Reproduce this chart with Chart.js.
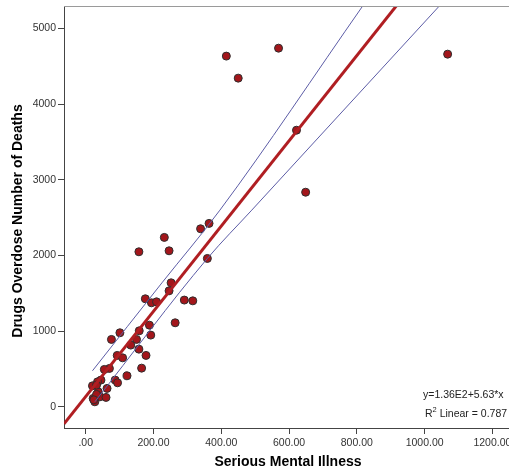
<!DOCTYPE html>
<html>
<head>
<meta charset="utf-8">
<script src="https://cdn.jsdelivr.net/npm/chart.js@4.4.1/dist/chart.umd.min.js"></script>
<style>
    html, body { margin: 0; padding: 0; background: #fff; overflow: hidden; }
    #wrap { width: 509px; height: 473px; }
</style>
</head>
<body>
<div id="wrap"><canvas id="myChart" width="509" height="473"></canvas></div>
<script>
// values
const illness = [364, 339, 232, 157, 246, 359, 252, 246, 176, 194, 209, 291, 316, 264, 188, 192,
    158, 101, 76, 150, 133, 157, 178, 93, 109, 165, 70, 55, 122, 87, 94, 45, 35, 20, 63, 37,
    22, 42, 60, 27, 32, 24, 32, 415, 569, 450, 1068, 622, 649];
const deaths = [2423, 2352, 2238, 2048, 2061, 1960, 1638, 1532, 1427, 1374, 1387, 1410, 1400, 1110, 1079, 947,
    1004, 978, 890, 890, 815, 762, 679, 679, 647, 511, 507, 494, 410, 353, 317, 353, 330, 277, 243, 198,
    111, 132, 124, 66, 164, 92, 287, 4633, 4738, 4342, 4659, 3654, 2835];

// linear fit as printed on the chart
const fitIntercept = 136;
const fitSlope = 5.63;
const fitLabel = "y=1.36E2+5.63*x";
const r2Value = "0.787";

// 95% confidence band lines
const upperCiX = [20, 225, 396, 817];
const upperCiY = [476, 1638, 2598, 5293];
const lowerCiX = [27, 359, 490, 1043];
const lowerCiY = [66, 1960, 2598, 5293];

const xTicks = [0, 200, 400, 600, 800, 1000, 1200];
const yTicks = [0, 1000, 2000, 3000, 4000, 5000];
const xTitle = "Serious Mental Illness";
const yTitle = "Drugs Overdose Number of Deaths";

const X_MIN = -64, X_MAX = 1249, Y_MIN = -280, Y_MAX = 5295;
const FONT = "'Liberation Sans', Arial, sans-serif";

const pts = illness.map((v, i) => ({ x: v, y: deaths[i] }));
const fitPts = [X_MIN, X_MAX].map(x => ({ x: x, y: fitIntercept + fitSlope * x }));
const upperPts = upperCiX.map((v, i) => ({ x: v, y: upperCiY[i] }));
const lowerPts = lowerCiX.map((v, i) => ({ x: v, y: lowerCiY[i] }));

const extras = {
    id: "extras",
    afterDraw(chart) {
        const ctx = chart.ctx;
        const a = chart.chartArea;
        ctx.save();
        // top frame line
        ctx.strokeStyle = "#9a9a9a";
        ctx.lineWidth = 1;
        ctx.beginPath();
        ctx.moveTo(a.left, a.top + 0.5);
        ctx.lineTo(a.right, a.top + 0.5);
        ctx.stroke();

        // axis titles
        ctx.fillStyle = "#000";
        ctx.font = "bold 14px " + FONT;
        ctx.textAlign = "center";
        ctx.textBaseline = "middle";
        ctx.fillText(xTitle, 288, 462);
        ctx.translate(18, 221);
        ctx.rotate(-Math.PI / 2);
        ctx.fillText(yTitle, 0, 0);
        ctx.setTransform(1, 0, 0, 1, 0, 0);

        // fit annotation
        ctx.fillStyle = "#222";
        ctx.font = "10.5px " + FONT;
        ctx.textAlign = "left";
        ctx.textBaseline = "middle";
        ctx.fillText(fitLabel, 423, 395);
        let x = 425;
        ctx.fillText("R", x, 414);
        x += ctx.measureText("R").width;
        ctx.font = "7.5px " + FONT;
        ctx.fillText("2", x, 410);
        x += ctx.measureText("2").width;
        ctx.font = "10.5px " + FONT;
        ctx.fillText(" Linear = " + r2Value, x, 414);
        ctx.restore();
    }
};

const ctx = document.getElementById("myChart").getContext("2d");
const myChart = new Chart(ctx, {
    type: "scatter",
    data: {
        datasets: [
            {
                label: "Observed",
                data: pts,
                backgroundColor: "#a3161b",
                borderColor: "#2e2e2e",
                borderWidth: 1,
                pointRadius: 4,
                order: 3
            },
            {
                label: "Fit",
                type: "line",
                data: fitPts,
                borderColor: "#b01e22",
                borderWidth: 3,
                pointRadius: 0,
                fill: false,
                order: 1
            },
            {
                label: "Upper CI",
                type: "line",
                data: upperPts,
                borderColor: "#5c5ca6",
                borderWidth: 1,
                pointRadius: 0,
                cubicInterpolationMode: "monotone",
                fill: false,
                order: 2
            },
            {
                label: "Lower CI",
                type: "line",
                data: lowerPts,
                borderColor: "#5c5ca6",
                borderWidth: 1,
                pointRadius: 0,
                cubicInterpolationMode: "monotone",
                fill: false,
                order: 2
            }
        ]
    },
    options: {
        responsive: false,
        animation: false,
        devicePixelRatio: 1,
        layout: { autoPadding: false, padding: { top: 6, left: 0, right: 0, bottom: 0 } },
        plugins: {
            legend: { display: false },
            tooltip: { enabled: false }
        },
        scales: {
            x: {
                type: "linear",
                min: X_MIN,
                max: X_MAX,
                afterBuildTicks: scale => { scale.ticks = xTicks.map(v => ({ value: v })); },
                afterFit: scale => {
                    scale.height = 45;
                    scale.paddingLeft = 0;
                    scale.paddingRight = 0;
                },
                grid: { drawOnChartArea: false, drawTicks: true, tickLength: 6, color: "#444" },
                border: { display: true, color: "#444", width: 1 },
                ticks: {
                    padding: 3,
                    color: "#333",
                    font: { family: FONT, size: 10.5 },
                    maxRotation: 0,
                    autoSkip: false,
                    callback: v => v === 0 ? ".00" : v.toFixed(2)
                }
            },
            y: {
                type: "linear",
                min: Y_MIN,
                max: Y_MAX,
                afterBuildTicks: scale => { scale.ticks = yTicks.map(v => ({ value: v })); },
                afterFit: scale => {
                    scale.width = 64;
                    scale.paddingTop = 0;
                    scale.paddingBottom = 0;
                },
                grid: { drawOnChartArea: false, drawTicks: true, tickLength: 6, color: "#444" },
                border: { display: true, color: "#444", width: 1 },
                ticks: {
                    padding: 2,
                    color: "#333",
                    font: { family: FONT, size: 10.5 },
                    autoSkip: false,
                    callback: v => String(v)
                }
            }
        }
    },
    plugins: [extras]
});
</script>
</body>
</html>
